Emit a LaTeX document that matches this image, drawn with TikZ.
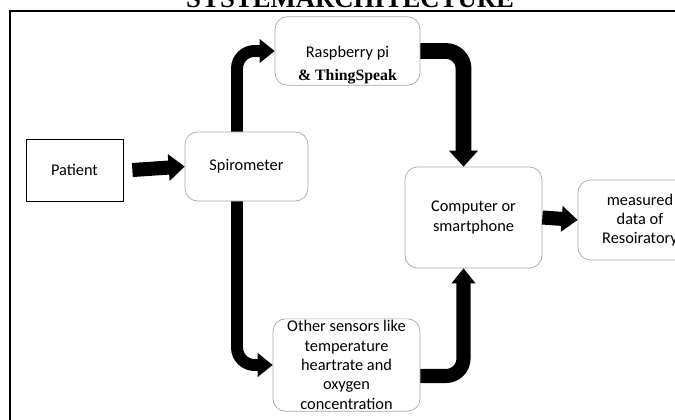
\documentclass[tikz,border=0pt]{standalone}
\usepackage{fontspec}
\setmainfont{Carlito}
\newfontfamily\titlefont{Liberation Serif}
\usetikzlibrary{arrows.meta}

\begin{document}
\begin{tikzpicture}[x=0.02cm, y=-0.02cm,
	txt/.style={font=\fontsize{9.3}{11}\selectfont, align=center, inner sep=1pt},
	box/.style={txt, draw=gray!70, rounded corners=0.25cm},
	flow/.style={line width=6.8pt, rounded corners=0.35cm, -{Triangle[length=0.3cm, width=0.46cm]}},
	fatflow/.style={flow, line width=9pt, -{Triangle[length=0.32cm, width=0.56cm]}},
	straight/.style={line width=8pt, -{Triangle[length=0.32cm, width=0.52cm]}}]
		\useasboundingbox (0, 0) rectangle (675, 419);
		
		% frame and title
		\draw[line width=1.6pt] (10, 11) rectangle (700, 440);
		\node[anchor=base, inner sep=0pt, font=\titlefont\bfseries\fontsize{15.2}{15}\selectfont] (title) at (350, 7.5) {SYSTEMARCHITECTURE};
		
		% blocks
		\node[txt, draw=black, minimum width=1.94cm, minimum height=1.24cm] (patient) at (74.5, 170) {Patient};
		\node[box, minimum width=2.46cm, minimum height=1.38cm] (spiro) at (246.5, 166.5) {Spirometer};
		\node[box, minimum width=2.9cm, minimum height=1.36cm] (rasp) at (347.5, 51) {\rule{0pt}{22pt}Raspberry pi\\[2pt]{\titlefont\bfseries\small\& ThingSpeak}};
		\node[box, minimum width=2.74cm, minimum height=2.02cm] (comp) at (473.5, 217.5) {Computer or\\smartphone};
		\node[box, minimum width=2.48cm, minimum height=1.6cm] (meas) at (640, 220) {measured\\data of\\Resoiratory};
		\node[box, minimum width=2.94cm, minimum height=1.84cm] (sens) at (346.5, 365) {Other sensors like\\temperature\\heartrate and\\oxygen\\concentration};
		
		% arrows
		\draw[straight] ([xshift=0.18cm]patient.east) -- (spiro.west);
		\draw[flow] ([xshift=-0.19cm]spiro.north) |- (rasp.west);
		\draw[flow] ([xshift=-0.19cm]spiro.south) |- (sens.west);
		\draw[fatflow] (rasp.east) -| ([xshift=-0.2cm]comp.north);
		\draw[flow, line width=8pt] ([yshift=-0.22cm]sens.east) -| ([xshift=-0.2cm]comp.south);
		\draw[straight, -{Triangle[length=0.32cm, width=0.5cm]}] (comp.east) -- (meas.west);
\end{tikzpicture}
\end{document}
